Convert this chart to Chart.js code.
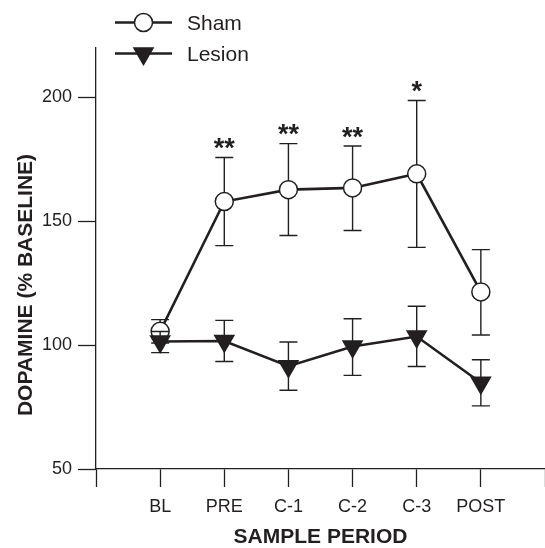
<!DOCTYPE html>
<html><head><meta charset="utf-8">
<script src="https://cdn.jsdelivr.net/npm/chart.js@4/dist/chart.umd.min.js"></script>
<style>html,body{margin:0;padding:0;background:#fff}#wrap{width:545px;height:548px;position:relative}</style>
</head><body><div id="wrap"><canvas id="c" width="545" height="548"></canvas></div>
<script>
const categories = ['BL', 'PRE', 'C-1', 'C-2', 'C-3', 'POST'];
const shamMean  = [105.6, 158.0, 162.8, 163.5, 169.2, 121.5];
const shamUpper = [110.3, 175.8, 181.4, 180.4, 198.8, 138.6];
const shamLower = [100.9, 140.2, 144.3, 146.3, 139.5, 104.1];
const lesionMean  = [101.5, 101.7, 91.5, 99.5, 103.5, 84.8];
const lesionUpper = [105.5, 110.0, 101.3, 110.7, 115.7, 94.1];
const lesionLower = [97.0, 93.4, 81.8, 87.8, 91.4, 75.5];
const significance = ['', '**', '**', '**', '*', ''];
const yTickValues = [50, 100, 150, 200];
const seriesNames = ['Sham', 'Lesion'];
const xTitle = 'SAMPLE PERIOD';
const yTitle = 'DOPAMINE (% BASELINE)';

const INK = '#231f20';
const FONT = '"Liberation Sans", Arial, Helvetica, sans-serif';

const toPoints = arr => arr.map((v, i) => ({ x: i + 1, y: v }));
const errorBars = { 0: [shamUpper, shamLower], 1: [lesionUpper, lesionLower] };

function drawMarker(ctx, style, x, y) {
  ctx.save();
  ctx.lineWidth = 1.5;
  ctx.strokeStyle = INK;
  if (style === 'circle') {
    ctx.fillStyle = '#fff';
    ctx.beginPath();
    ctx.arc(x, y, 9, 0, Math.PI * 2);
    ctx.fill(); ctx.stroke();
  } else {
    const r = 11;
    ctx.fillStyle = INK;
    ctx.beginPath();
    let rad = Math.PI;
    for (let k = 0; k < 3; k++) {
      const px = x + Math.sin(rad) * r, py = y - Math.cos(rad) * r;
      if (k === 0) ctx.moveTo(px, py); else ctx.lineTo(px, py);
      rad += 2 * Math.PI / 3;
    }
    ctx.closePath();
    ctx.fill(); ctx.stroke();
  }
  ctx.restore();
}

const customPlugin = {
  id: 'custom',
  beforeDatasetDraw(chart, args) {
    const eb = errorBars[args.index];
    if (!eb) return;
    const ctx = chart.ctx, xs = chart.scales.x, ys = chart.scales.y;
    ctx.save();
    ctx.strokeStyle = INK;
    ctx.lineWidth = 1.4;
    eb[0].forEach((up, i) => {
      const x = xs.getPixelForValue(i + 1);
      const yu = ys.getPixelForValue(up), yl = ys.getPixelForValue(eb[1][i]);
      ctx.beginPath();
      ctx.moveTo(x, yu); ctx.lineTo(x, yl);
      ctx.moveTo(x - 9, yu); ctx.lineTo(x + 9, yu);
      ctx.moveTo(x - 9, yl); ctx.lineTo(x + 9, yl);
      ctx.stroke();
    });
    ctx.restore();
  },
  afterDraw(chart) {
    const ctx = chart.ctx, xs = chart.scales.x, ys = chart.scales.y;
    // significance stars
    ctx.save();
    ctx.fillStyle = INK;
    ctx.font = 'bold 27px ' + FONT;
    ctx.textAlign = 'center';
    ctx.textBaseline = 'alphabetic';
    const m = ctx.measureText('*');
    const mid = (m.actualBoundingBoxAscent - m.actualBoundingBoxDescent) / 2;
    significance.forEach((s, i) => {
      if (!s) return;
      const x = xs.getPixelForValue(i + 1);
      const yTop = ys.getPixelForValue(shamUpper[i]);
      ctx.fillText(s, x, yTop - 14 + mid);
    });
    ctx.restore();
    // legend
    ctx.save();
    const rows = [{ y: 22.5, style: 'circle' }, { y: 53.5, style: 'triangle' }];
    rows.forEach((r, k) => {
      ctx.strokeStyle = INK;
      ctx.lineWidth = 2.5;
      ctx.beginPath();
      ctx.moveTo(115, r.y); ctx.lineTo(172, r.y);
      ctx.stroke();
      drawMarker(ctx, r.style, 143.5, r.y);
      ctx.fillStyle = INK;
      ctx.font = '21px ' + FONT;
      ctx.textAlign = 'left';
      ctx.textBaseline = 'alphabetic';
      ctx.fillText(seriesNames[k], 187, k === 0 ? 29.7 : 60.6);
    });
    ctx.restore();
    // y axis title
    ctx.save();
    ctx.translate(26, 285);
    ctx.rotate(-Math.PI / 2);
    ctx.fillStyle = INK;
    ctx.font = 'bold 21px ' + FONT;
    ctx.textAlign = 'center';
    ctx.textBaseline = 'middle';
    ctx.fillText(yTitle, 0, 0);
    ctx.restore();
  }
};

new Chart(document.getElementById('c'), {
  type: 'line',
  data: {
    datasets: [
      {
        label: seriesNames[0],
        data: toPoints(shamMean),
        borderColor: INK,
        borderWidth: 2.6,
        pointStyle: 'circle',
        pointRadius: 9,
        pointBackgroundColor: '#fff',
        pointBorderColor: INK,
        pointBorderWidth: 1.5,
        clip: false,
        order: 2
      },
      {
        label: seriesNames[1],
        data: toPoints(lesionMean),
        borderColor: INK,
        borderWidth: 2.6,
        pointStyle: 'triangle',
        pointRotation: 180,
        pointRadius: 11,
        pointBackgroundColor: INK,
        pointBorderColor: INK,
        pointBorderWidth: 1.5,
        clip: false,
        order: 1
      }
    ]
  },
  options: {
    responsive: false,
    animation: false,
    devicePixelRatio: 1,
    layout: { autoPadding: false, padding: { left: 42, top: 48, right: 0, bottom: 0 } },
    plugins: { legend: { display: false }, tooltip: { enabled: false } },
    scales: {
      x: {
        type: 'linear',
        min: 0, max: 7,
        afterBuildTicks: s => { s.ticks = [0, 1, 2, 3, 4, 5, 6, 7].map(v => ({ value: v })); },
        afterFit: s => { s.height = 79; s.paddingLeft = 0; s.paddingRight = 0; },
        ticks: {
          autoSkip: false, maxRotation: 0, padding: 9,
          color: INK, font: { family: FONT, size: 18 },
          callback: v => categories[v - 1] || ''
        },
        grid: { drawOnChartArea: false, tickLength: 18, tickColor: INK, tickWidth: 1.3, color: INK },
        border: { color: INK, width: 1.3 },
        title: {
          display: true, text: xTitle, color: INK,
          font: { family: FONT, size: 21, weight: 'bold', lineHeight: 1 },
          padding: { top: 9, bottom: 0 }
        }
      },
      y: {
        type: 'linear',
        min: 50, max: 220,
        afterBuildTicks: s => { s.ticks = yTickValues.map(v => ({ value: v })); },
        afterFit: s => { s.width = 54; s.paddingTop = 0; s.paddingBottom = 0; },
        ticks: { padding: 6, color: INK, font: { family: FONT, size: 18 } },
        grid: { drawOnChartArea: false, tickLength: 18, tickColor: INK, tickWidth: 1.3, color: INK },
        border: { color: INK, width: 1.3 }
      }
    }
  },
  plugins: [customPlugin]
});
</script>
</body></html>
